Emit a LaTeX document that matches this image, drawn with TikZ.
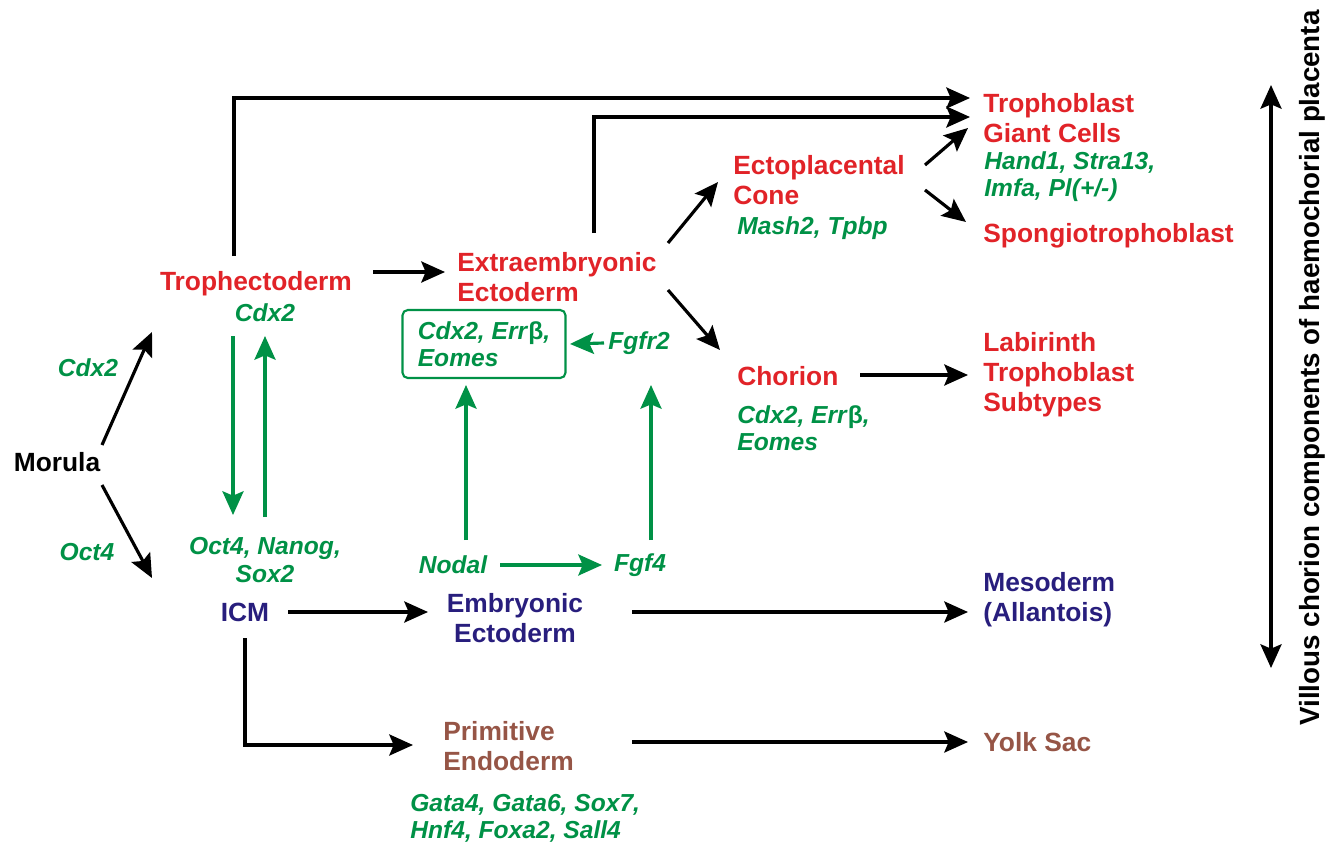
\documentclass[tikz,border=0pt]{standalone}
\usepackage{fontspec}
\setmainfont{Liberation Sans}
\usetikzlibrary{arrows.meta}
\definecolor{tred}{RGB}{225,35,40}
\definecolor{tgreen}{RGB}{0,145,70}
\definecolor{tblue}{RGB}{40,30,125}
\definecolor{tbrown}{RGB}{150,85,70}
\begin{document}
\begin{tikzpicture}[
		x=0.02cm, y=-0.02cm,
		tissue/.style = {
			inner sep = 0pt,
			align = left,
			font = \fontsize{15}{17}\selectfont\bfseries
		},
		gene/.style = {
			inner sep = 0pt,
			align = left,
			text = tgreen,
			font = \fontsize{14}{15.5}\selectfont\bfseries\itshape
		},
		genebox/.style = {
			gene,
			draw = tgreen,
			line width = 1.2pt,
			rounded corners = 3pt,
			minimum width = 3.26cm,
			minimum height = 1.36cm
		},
		tip/.tip = {Stealth[length=13.5pt, width=12pt, inset=2.5pt]},
		arr/.style = {
			line width = 1.8pt,
			-tip
		},
		garr/.style = {
			arr,
			draw = tgreen
		}
	]
	\useasboundingbox (0,0) rectangle (1331,845);
	\node[tissue]                        (morula)   at (57,462)  {Morula};
	\node[gene]                          (cdxL)     at (88,368)  {Cdx2};
	\node[gene]                          (octL)     at (87,552)  {Oct4};
	\node[tissue, text=tred]             (troph)    at (256,284) {Trophectoderm};
	\node[gene]                          (cdxT)     at (265,313) {Cdx2};
	\node[gene, align=center]            (ons)      at (265,560) {Oct4, Nanog,\\Sox2};
	\node[tissue, text=tblue]            (icm)      at (245,612) {ICM};
	\node[tissue, text=tred, anchor=west] (extra)   at (457,277) {Extraembryonic\\Ectoderm};
	\node[genebox]                       (box)      at (484,344) {Cdx2, Err\textup{β},\\Eomes};
	\node[gene]                          (fgfr2)    at (639,343) {Fgfr2};
	\node[gene]                          (nodal)    at (453,565) {Nodal};
	\node[gene]                          (fgf4)     at (640,565) {Fgf4};
	\node[tissue, text=tblue, align=center] (embr)  at (515,618) {Embryonic\\Ectoderm};
	\node[tissue, text=tred, anchor=west] (ecto)    at (733,180) {Ectoplacental\\Cone};
	\node[gene, anchor=west]             (mash)     at (737,228) {Mash2, Tpbp};
	\node[tissue, text=tred, anchor=west] (tgc)     at (983,118) {Trophoblast\\Giant Cells};
	\node[gene, anchor=west]             (tgcg)     at (984,177) {Hand1, Stra13,\\Imfa, Pl(+/-)};
	\node[tissue, text=tred, anchor=west] (spongio) at (983,236) {Spongiotrophoblast};
	\node[tissue, text=tred, anchor=west] (chorion) at (737,376) {Chorion};
	\node[gene, anchor=west]             (choriong) at (737,428) {Cdx2, Err\textup{β},\\Eomes};
	\node[tissue, text=tred, anchor=west] (lab)     at (983,375) {Labirinth\\Trophoblast\\Subtypes};
	\node[tissue, text=tblue, anchor=west] (meso)   at (983,600) {Mesoderm\\(Allantois)};
	\node[tissue, text=tbrown, anchor=west] (prim)  at (443,746) {Primitive\\Endoderm};
	\node[gene, anchor=west]             (primg)    at (410,818) {Gata4, Gata6, Sox7,\\Hnf4, Foxa2, Sall4};
	\node[tissue, text=tbrown, anchor=west] (yolk)  at (983,742) {Yolk Sac};
	\node[tissue, rotate=90, font=\fontsize{15.8}{17}\selectfont\bfseries]
	                                     (vlabel)   at (1312,368) {Villous chorion components of haemochorial placenta};
	\coordinate (vtop) at (1271,85);
	\coordinate (vbot) at (1271,668);

	\draw[arr] ([shift={(45,-17)}]morula.center) -- ([shift={(-104,48)}]troph.center);
	\draw[arr] ([shift={(45,23)}]morula.center) -- ([shift={(-93,-34)}]icm.center);
	\draw[arr] ([shift={(117,-12)}]troph.center) -- ([shift={(-12,-5)}]extra.west);
	\draw[arr] ([shift={(-22,-28)}]troph.center) |- ([shift={(-13,-20)}]tgc.west);
	\draw[arr] ([shift={(137,-44)}]extra.west) |- ([shift={(-13,-1)}]tgc.west);
	\draw[arr] ([shift={(211,-34)}]extra.west) -- ([shift={(-15,2)}]ecto.west);
	\draw[arr] ([shift={(211,13)}]extra.west) -- ([shift={(-17,-26)}]chorion.west);
	\draw[arr] ([shift={(192,-15)}]ecto.west) -- ([shift={(-15,10)}]tgc.west);
	\draw[arr] ([shift={(192,10)}]ecto.west) -- ([shift={(-17,-14)}]spongio.west);
	\draw[arr] ([shift={(123,-1)}]chorion.west) -- ([shift={(-15,0)}]lab.west);
	\draw[arr] ([shift={(43,0)}]icm.center) -- ([shift={(-87,-6)}]embr.center);
	\draw[arr] ([shift={(117,-6)}]embr.center) -- ([shift={(-15,12)}]meso.west);
	\draw[arr] ([shift={(0,26)}]icm.center) |- ([shift={(-30,-1)}]prim.west);
	\draw[arr] ([shift={(189,-4)}]prim.west) -- ([shift={(-15,0)}]yolk.west);
	\draw[arr, tip-tip] (vtop) -- (vbot);

	\draw[garr] ([shift={(-32,23)}]cdxT.center) -- ([shift={(-32,-45)}]ons.center);
	\draw[garr] ([shift={(0,-43)}]ons.center) -- ([shift={(0,23)}]cdxT.center);
	\draw[garr] ([shift={(47,0)}]nodal.center) -- ([shift={(-38,0)}]fgf4.center);
	\draw[garr] ([shift={(13,-25)}]nodal.center) -- ([shift={(-18,41)}]box.center);
	\draw[garr] ([shift={(11,-25)}]fgf4.center) -- ([shift={(12,42)}]fgfr2.center);
	\draw[garr] ([shift={(-35,0)}]fgfr2.center) -- ([shift={(86,0)}]box.center);
\end{tikzpicture}
\end{document}
